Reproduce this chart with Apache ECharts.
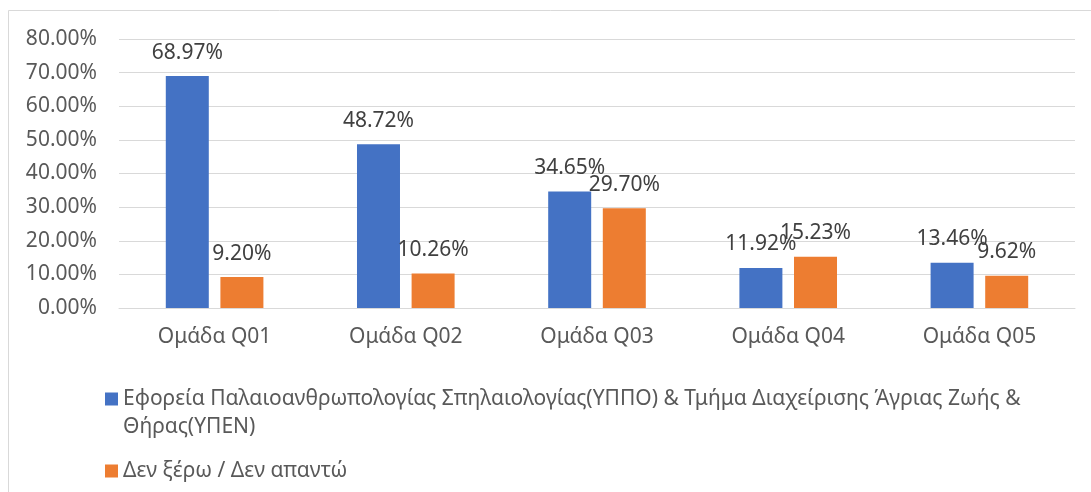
<!DOCTYPE html>
<html>
<head>
<meta charset="utf-8">
<script src="https://cdn.jsdelivr.net/npm/echarts@6/dist/echarts.min.js"></script>
<style>
  html, body { margin: 0; padding: 0; background: #ffffff; }
  #chart { width: 1091px; height: 492px; }
</style>
</head>
<body>
<div id="chart"></div>
<script>
// Survey groups and the share of answers per group (percent)
const categories = ['Ομάδα Q01', 'Ομάδα Q02', 'Ομάδα Q03', 'Ομάδα Q04', 'Ομάδα Q05'];
const seriesNames = [
  'Εφορεία Παλαιοανθρωπολογίας Σπηλαιολογίας(ΥΠΠΟ) & Τμήμα Διαχείρισης Άγριας Ζωής & Θήρας(ΥΠΕΝ)',
  'Δεν ξέρω / Δεν απαντώ'
];
const authorityValues = [68.97, 48.72, 34.65, 11.92, 13.46];
const dontKnowValues = [9.20, 10.26, 29.70, 15.23, 9.62];
const yTicks = [0, 10, 20, 30, 40, 50, 60, 70, 80];

const FONT = 'Noto Sans';
const FS = 21;
const colors = ['#4472C4', '#ED7D31'];

const chart = echarts.init(document.getElementById('chart'), null, { renderer: 'canvas' });

function pct(v) { return v.toFixed(2) + '%'; }

const labelOpt = {
  show: true,
  position: 'top',
  distance: 13,
  color: '#404040',
  fontFamily: FONT,
  fontSize: FS,
  formatter: p => pct(p.value)
};

chart.setOption({
  backgroundColor: '#ffffff',
  animation: false,
  color: colors,
  graphic: [{
    type: 'rect',
    silent: true,
    shape: { x: 8.5, y: 10.5, width: 1200, height: 600 },
    style: { fill: 'none', stroke: '#d9d9d9', lineWidth: 1 }
  }],
  grid: { left: 119, right: 16, top: 39, bottom: 184, containLabel: false },
  legend: {
    orient: 'vertical',
    left: 100,
    top: 352,
    itemWidth: 13,
    itemHeight: 13,
    itemGap: 16,
    icon: 'rect',
    selectedMode: false,
    // blank first line keeps the swatch level with the first text line
    formatter: name => name.indexOf(' Θήρας') >= 0 ? '\n' + name.replace(' Θήρας', '\nΘήρας') : name,
    textStyle: {
      color: '#595959',
      fontFamily: FONT,
      fontSize: FS,
      lineHeight: 28,
      padding: [0, 0, 0, 0]
    },
    data: seriesNames
  },
  xAxis: {
    type: 'category',
    data: categories,
    axisLine: { show: true, lineStyle: { color: '#d9d9d9', width: 1 } },
    axisTick: { show: false },
    axisLabel: { color: '#595959', fontFamily: FONT, fontSize: FS, margin: 19 }
  },
  yAxis: {
    type: 'value',
    min: yTicks[0],
    max: yTicks[yTicks.length - 1],
    interval: yTicks[1] - yTicks[0],
    axisLine: { show: false },
    axisTick: { show: false },
    splitLine: { show: true, lineStyle: { color: '#d9d9d9', width: 1 } },
    axisLabel: { color: '#595959', fontFamily: FONT, fontSize: FS, margin: 22, formatter: v => pct(v) }
  },
  series: [
    {
      name: seriesNames[0],
      type: 'bar',
      data: authorityValues,
      barWidth: 43,
      barGap: '27%',
      itemStyle: { color: colors[0] },
      label: labelOpt
    },
    {
      name: seriesNames[1],
      type: 'bar',
      data: dontKnowValues,
      barWidth: 43,
      barGap: '27%',
      itemStyle: { color: colors[1] },
      label: labelOpt
    }
  ]
});
</script>
</body>
</html>
